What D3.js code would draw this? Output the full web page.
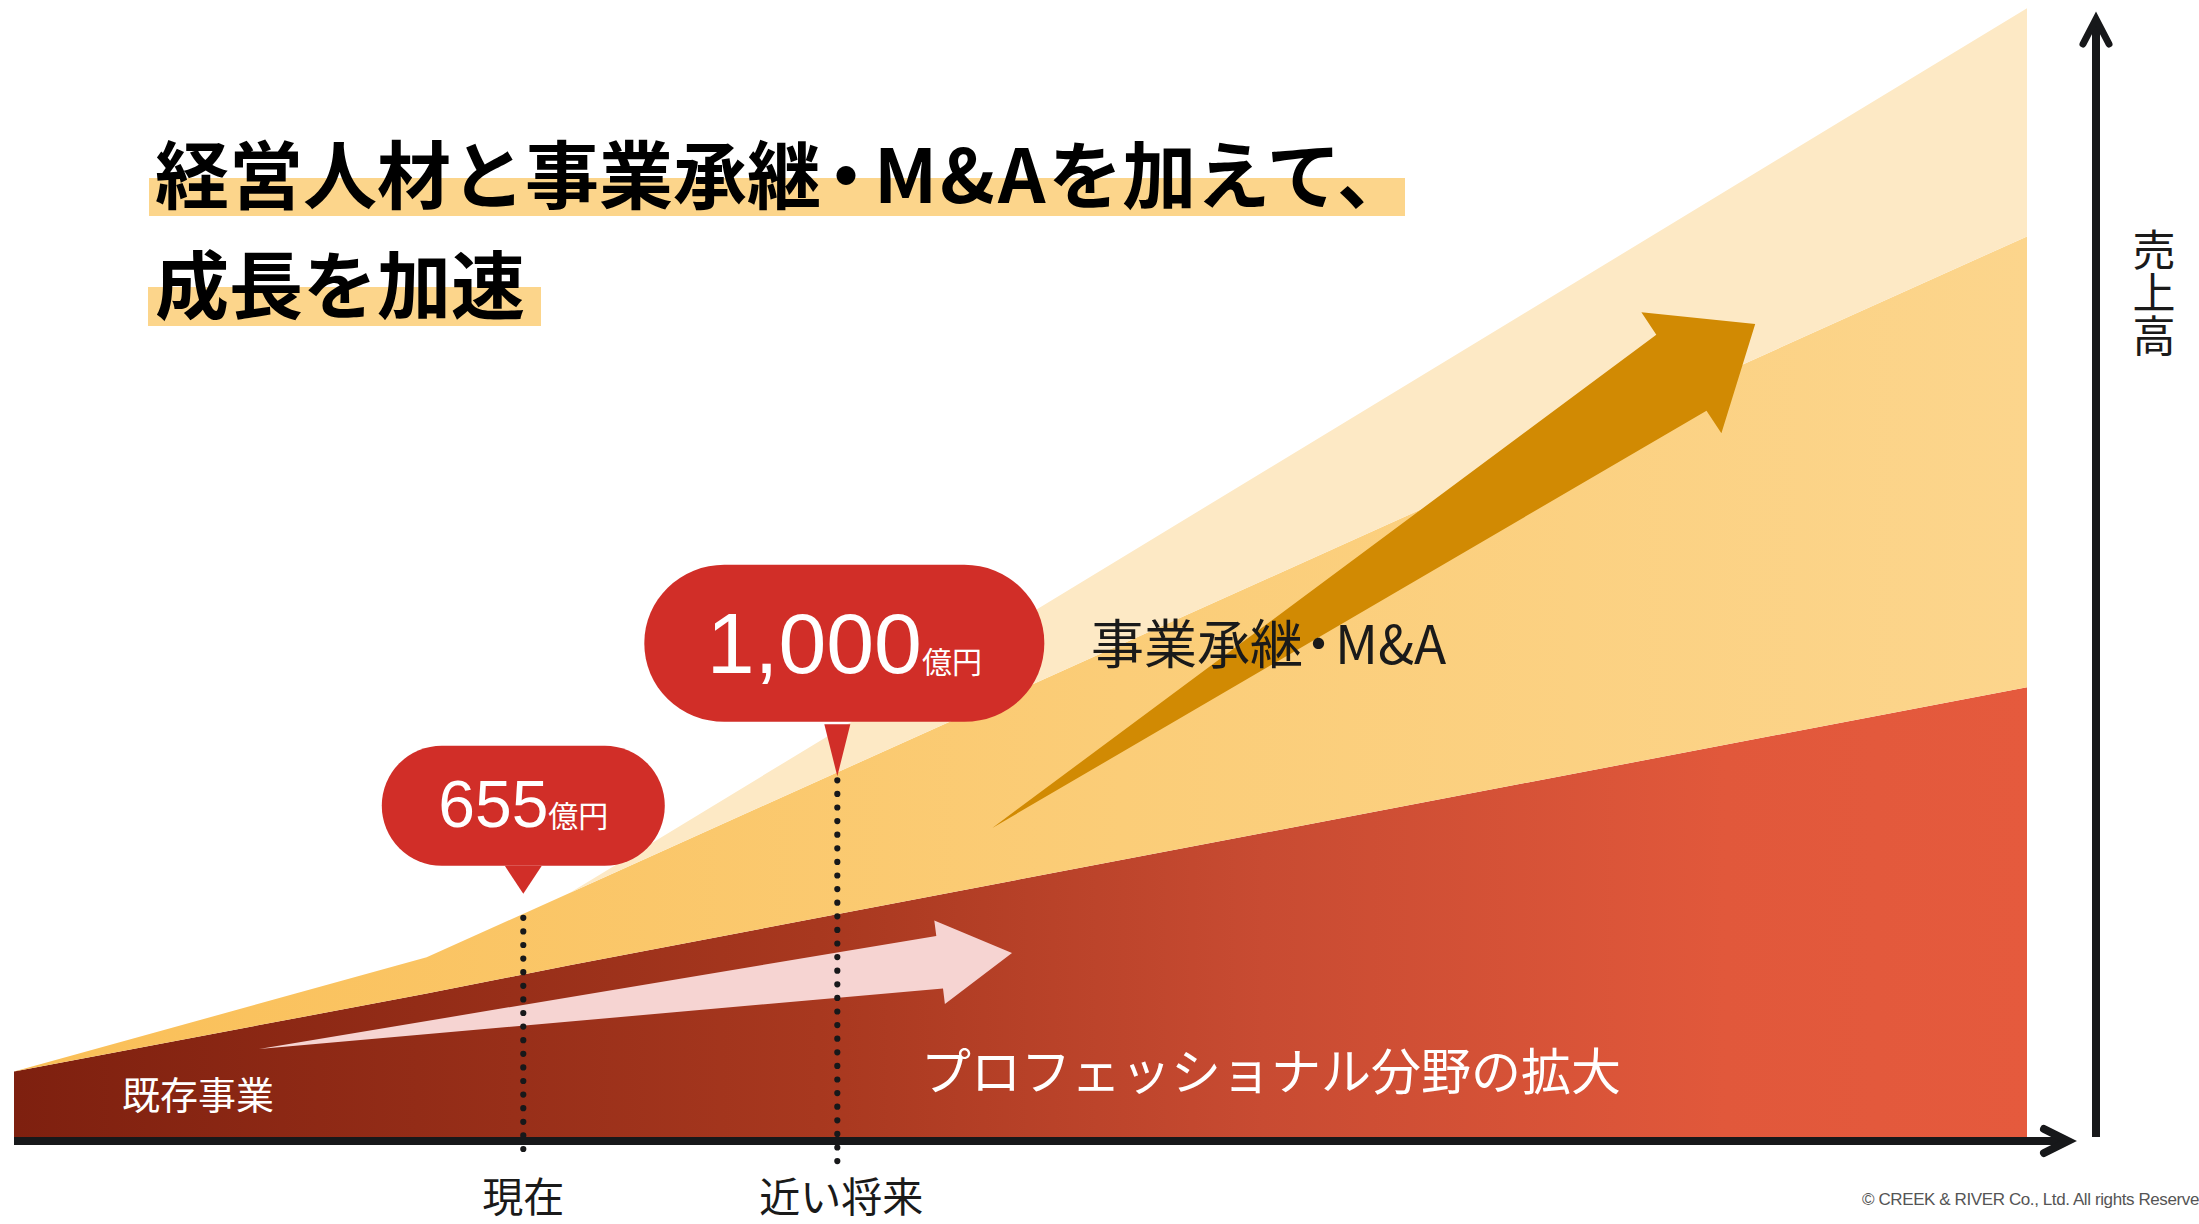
<!DOCTYPE html>
<html><head><meta charset="utf-8">
<script src="https://cdn.jsdelivr.net/npm/d3@7"></script>
<style>html,body{margin:0;padding:0;background:#fff;overflow:hidden}</style>
</head><body>
<svg id="chart" width="2199" height="1224"></svg>
<script>
// ---------- DATA ----------
const xValues          = [0, 20.5, 27.6, 100];      // time (abstract index)
const existingBusiness = [5.8, 12.7, 15.2, 39.8];   // 既存事業 / プロフェッショナル分野の拡大
const managementTalent = [0, 3.2, 6.4, 39.9];       // 経営人材
const successionMA     = [0, 0, 0, 20.2];           // 事業承継・M&A
const seriesKeys = ["existing", "talent", "ma"];

const milestoneLabels = ["現在", "近い将来"];
const milestoneX      = [25.3, 40.9];
const milestoneValues = ["655", "1,000"];
const valueUnit = "億円";

const titleLine1 = ["経営人材と事業承継", "・", "M&A", "を加えて、"];
const titleLine2 = "成長を加速";
const axisLabel = "売上高";
const bandLabels = ["既存事業", "プロフェッショナル分野の拡大"];
const maLabel = ["事業承継", "・", "M&A"];
const copyright = "© CREEK & RIVER Co., Ltd. All rights Reserved";

// growth arrows (tail / tip in data units)
const goldArrowTail = [48.6, 27.35], goldArrowTip = [86.5, 71.95];
const pinkArrowTail = [12.17, 7.79], pinkArrowTip = [49.58, 16.28];

// ---------- SETUP ----------
const svg = d3.select("#chart");
const x = d3.scaleLinear([0, 100], [14, 2027]);
const y = d3.scaleLinear([0, 100], [1137, 7]);
const CJK = "'Noto Sans CJK JP','Noto Sans',sans-serif";
const LAT = "'Liberation Sans',Arial,'Noto Sans CJK JP',sans-serif";

const defs = svg.append("defs");
function grad(id, stops) {
  const g = defs.append("linearGradient").attr("id", id)
    .attr("gradientUnits", "userSpaceOnUse")
    .attr("x1", x(0)).attr("x2", x(100)).attr("y1", 0).attr("y2", 0);
  stops.forEach(s => g.append("stop").attr("offset", s[0]).attr("stop-color", s[1]));
}
grad("gRed", [[0, "#7e200f"], [0.4, "#a8381f"], [0.62, "#c84b32"], [0.85, "#e1583b"], [1, "#e55a3d"]]);
grad("gOrange", [[0, "#fabf57"], [0.55, "#fbcd78"], [1, "#fcd58c"]]);

const rows = xValues.map((v, i) => ({
  x: v, existing: existingBusiness[i], talent: managementTalent[i], ma: successionMA[i]
}));
const stacked = d3.stack().keys(seriesKeys)(rows);
const fills = {existing: "url(#gRed)", talent: "url(#gOrange)", ma: "#fde9c5"};
const area = d3.area().x(d => x(d.data.x)).y0(d => y(d[0])).y1(d => y(d[1])).curve(d3.curveLinear);

svg.append("g").selectAll("path").data(stacked).join("path")
  .attr("d", area).attr("fill", d => fills[d.key]);

// top of the (existing + talent) stack at a given x
const midTop = xv => d3.scaleLinear(xValues, rows.map(r => r.existing + r.talent))(xv);

// ---------- ARROWS ----------
function arrowPath(tail, tip, h, hw, sw) {
  const T = [x(tail[0]), y(tail[1])], P = [x(tip[0]), y(tip[1])];
  const dx = P[0] - T[0], dy = P[1] - T[1], L = Math.hypot(dx, dy);
  const u = [dx / L, dy / L], n = [u[1], -u[0]];
  const B = [P[0] - h * u[0], P[1] - h * u[1]];
  const pt = (k) => [B[0] + k * n[0], B[1] + k * n[1]];
  const pts = [T, pt(sw), pt(hw), P, pt(-hw), pt(-sw)];
  return "M" + pts.map(p => p[0].toFixed(1) + "," + p[1].toFixed(1)).join("L") + "Z";
}
svg.append("path").attr("d", arrowPath(pinkArrowTail, pinkArrowTip, 73, 42, 26.5)).attr("fill", "#f6d4d2");
svg.append("path").attr("d", arrowPath(goldArrowTail, goldArrowTip, 88.5, 72.5, 45.5)).attr("fill", "#d18a03");

// ---------- MILESTONES ----------
const bubbleStyle = [
  {w: 283, h: 120, rx: 60, ry: 60, dx: 0, tipGap: -20, ptrW: 37, ptrH: 28, ptrGap: 0, num: 66, unit: 30, base: -39, dotStart: 4, lx: 0},
  {w: 400, h: 157, rx: 80, ry: 78, dx: 7, tipGap: 4, ptrW: 26, ptrH: 52, ptrGap: 2.5, num: 86, unit: 30, base: -49, dotStart: 8, lx: 4}
];
const axisY = y(0) + 4;
milestoneX.forEach((mx, i) => {
  const s = bubbleStyle[i];
  const cx = x(mx), topY = y(midTop(mx));
  svg.append("line").attr("x1", cx).attr("x2", cx)
    .attr("y1", topY + s.dotStart).attr("y2", axisY + 21)
    .attr("stroke", "#17181a").attr("stroke-width", 6.2)
    .attr("stroke-linecap", "round").attr("stroke-dasharray", "0 13.6");
  const tipY = topY + s.tipGap;
  const ptrTop = tipY - s.ptrH;
  const bBottom = ptrTop - s.ptrGap;
  const bx = cx + s.dx - s.w / 2, by = bBottom - s.h;
  svg.append("path")
    .attr("d", `M${cx - s.ptrW / 2},${ptrTop}L${cx + s.ptrW / 2},${ptrTop}L${cx},${tipY}Z`)
    .attr("fill", "#d12e28");
  svg.append("rect").attr("x", bx).attr("y", by).attr("width", s.w).attr("height", s.h)
    .attr("rx", s.rx).attr("ry", s.ry).attr("fill", "#d12e28");
  const t = svg.append("text").attr("x", cx + s.dx).attr("y", bBottom + s.base)
    .attr("text-anchor", "middle").attr("fill", "#fff").attr("font-family", LAT);
  t.append("tspan").attr("font-size", s.num).text(milestoneValues[i]);
  t.append("tspan").attr("font-size", s.unit).attr("font-family", CJK).text(valueUnit);
  svg.append("text").attr("x", cx + s.lx).attr("y", 1212)
    .attr("text-anchor", "middle").attr("font-family", CJK).attr("font-size", 41)
    .attr("fill", "#1a1a1a").text(milestoneLabels[i]);
});

// text with a narrow (half-width) middle dot, positioned like the reference
function dotText(sel, parts, size, dotCenterOff, latinStartOff, extra) {
  const a = sel.append("tspan").text(parts[0]);
  const b = sel.append("tspan").style("font-feature-settings", "'halt'").text(parts[1]);
  const c = sel.append("tspan").text(parts[2]);
  if (extra) c.attr("letter-spacing", extra.ls);
  const w = b.node().getComputedTextLength();
  const dB = dotCenterOff - w / 2;
  const dC = latinStartOff - (dB + w);
  b.attr("dx", dB);
  c.attr("dx", dC);
  return c;
}

// ---------- LABELS ----------
svg.append("text").attr("x", 122).attr("y", 1109).attr("font-family", CJK)
  .attr("font-size", 38).attr("fill", "#fff").text(bandLabels[0]);
svg.append("text").attr("x", 921).attr("y", 1090).attr("font-family", CJK)
  .attr("font-size", 50).attr("fill", "#fff").text(bandLabels[1]);
const ml = svg.append("text").attr("x", 1091).attr("y", 664).attr("font-family", CJK)
  .attr("font-size", 53).attr("fill", "#1a1a1a");
dotText(ml, maLabel, 53, 15.6, 32);

// ---------- TITLE ----------
const hl = [{x: 149, y: 178, w: 1256, h: 38}, {x: 148, y: 287, w: 393, h: 39}];
hl.forEach(r => svg.append("rect").attr("x", r.x).attr("y", r.y).attr("width", r.w).attr("height", r.h).attr("fill", "#fcd58b"));
const t1 = svg.append("text").attr("x", 155).attr("y", 203)
  .attr("font-family", CJK).attr("font-weight", 700).attr("font-size", 74).attr("fill", "#000");
dotText(t1, titleLine1, 74, 25, 53, {ls: 3});
t1.append("tspan").text(titleLine1[3]);
svg.append("text").attr("x", 155).attr("y", 313)
  .attr("font-family", CJK).attr("font-weight", 700).attr("font-size", 74)
  .attr("fill", "#000").text(titleLine2);

// ---------- AXES ----------
const axisColor = "#17181a";
svg.append("line").attr("x1", x(0)).attr("x2", 2068).attr("y1", y(0) + 4).attr("y2", y(0) + 4)
  .attr("stroke", axisColor).attr("stroke-width", 8);
svg.append("path").attr("d", `M2044,${y(0) - 8}L2068,${y(0) + 4}L2044,${y(0) + 16}`)
  .attr("fill", "none").attr("stroke", axisColor).attr("stroke-width", 8)
  .attr("stroke-linecap", "round").attr("stroke-linejoin", "miter");
svg.append("line").attr("x1", 2096).attr("x2", 2096).attr("y1", y(0)).attr("y2", 19)
  .attr("stroke", axisColor).attr("stroke-width", 8);
svg.append("path").attr("d", "M2083,44L2096,19L2109,44")
  .attr("fill", "none").attr("stroke", axisColor).attr("stroke-width", 7)
  .attr("stroke-linecap", "round").attr("stroke-linejoin", "miter");
svg.append("text").attr("x", 2154).attr("y", 228)
  .attr("font-family", CJK).attr("font-size", 43).attr("fill", "#1a1a1a")
  .attr("writing-mode", "vertical-rl").style("writing-mode", "vertical-rl")
  .text(axisLabel);

// ---------- FOOTER ----------
svg.append("text").attr("x", 1862).attr("y", 1205).attr("font-family", LAT)
  .attr("font-size", 17).attr("letter-spacing", -0.4).attr("fill", "#555").text(copyright);
</script>
</body></html>
